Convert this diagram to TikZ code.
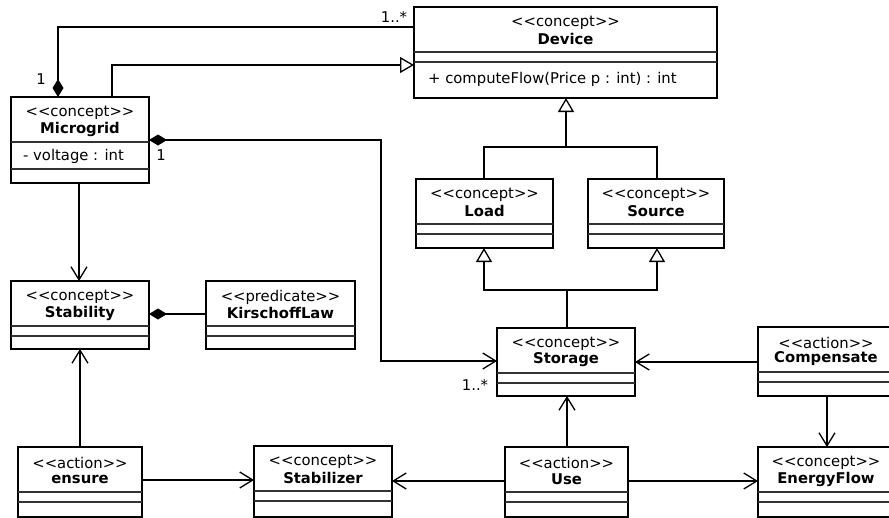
\documentclass[tikz,border=0pt]{standalone}
\usepackage{fontspec}
\setmainfont{DejaVu Sans}
\usetikzlibrary{arrows.meta,calc}
\newcommand{\umlclass}[9]{%
  \node[umlbox, anchor=north west, minimum width={#4-#2}, minimum height={#5-#3}] (#1) at (#2,#3) {};
  \draw[inner] (#2,#6) -- (#4,#6);
  \draw[inner] (#2,#7) -- (#4,#7);
  \node[txt] (#1-s) at ({(#2+#4)/2},#3+16) {<{}<#8>{}>};
  \node[txt, font=\fontsize{14.8pt}{17pt}\selectfont\bfseries] (#1-n) at ({(#2+#4)/2},#3+32) {#9};
}
\begin{document}
\begin{tikzpicture}[x=1pt,y=-1pt,
  umlbox/.style={draw=black, line width=2.6pt, fill=white, inner sep=0pt, outer sep=0pt},
  inner/.style={line width=1.2pt, draw=black!80},
  txt/.style={inner sep=0pt, font=\fontsize{14.8pt}{17pt}\selectfont},
  conn/.style={line width=1.3pt, draw=black},
  openarr/.style={-{Straight Barb[length=13pt,width=16pt]}},
  gen/.style={-{Triangle[open,length=14pt,width=16pt,fill=white]}},
  comp/.style={{Diamond[length=18pt,width=11pt]}-},
  compopen/.style={{Diamond[length=18pt,width=11pt]}-{Straight Barb[length=13pt,width=16pt]}},
]
\clip (0,0) rectangle (889,517);
\useasboundingbox (0,0) rectangle (889,517);

% classes
\umlclass{dev}{414}{7}{717}{98}{52}{62}{concept}{Device}
\node[txt, anchor=west] (dev-m) at (428,79) {+ computeFlow(Price p : int) : int};
\umlclass{mg}{11}{97}{149}{183}{142}{169}{concept}{Microgrid}
\node[txt, anchor=west] (mg-a) at (23,156) {- voltage : int};
\umlclass{load}{416}{179}{553}{248}{224}{234}{concept}{Load}
\umlclass{src}{588}{179}{724}{248}{224}{234}{concept}{Source}
\umlclass{stab}{11}{281}{149}{349}{326}{336}{concept}{Stability}
\umlclass{kl}{206}{281}{355}{349}{326}{336}{predicate}{KirschoffLaw}
\umlclass{sto}{497}{328}{635}{396}{373}{383}{concept}{Storage}
\umlclass{comp}{758}{327}{894}{396}{372}{382}{action}{Compensate}
\umlclass{ens}{18}{447}{142}{517}{492}{502}{action}{ensure}
\umlclass{stz}{254}{446}{392}{517}{491}{501}{concept}{Stabilizer}
\umlclass{use}{505}{447}{628}{517}{492}{502}{action}{Use}
\umlclass{ef}{758}{447}{894}{517}{492}{502}{concept}{EnergyFlow}

% connectors
\coordinate (j1) at (58,27);
\draw[conn,comp] (mg.north -| j1) -- (j1) -- (dev.west |- j1);
\coordinate (j2) at (112,65);
\draw[conn,gen] (mg.north -| j2) -- (j2) -- (dev.west |- j2);
\coordinate (j3) at (381,140);
\coordinate (j4) at (381,361);
\draw[conn,compopen] (mg.east |- j3) -- (j3) -- (j4) -- (sto.west |- j4);
\draw[conn,openarr] (mg.south -| 79,0) -- (stab.north -| 79,0);
\draw[conn,comp] (stab.east |- 0,314) -- (kl.west |- 0,314);
\draw[conn,openarr] (ens.north -| 80,0) -- (stab.south -| 80,0);
\draw[conn,openarr] (ens.east |- 0,480) -- (stz.west |- 0,480);
\draw[conn,openarr] (use.west |- 0,481) -- (stz.east |- 0,481);
\draw[conn,openarr] (use.north -| 567,0) -- (sto.south -| 567,0);
\draw[conn,openarr] (use.east |- 0,481) -- (ef.west |- 0,481);
\draw[conn,openarr] (comp.west |- 0,362) -- (sto.east |- 0,362);
\draw[conn,openarr] (comp.south -| 827,0) -- (ef.north -| 827,0);
% generalizations
\coordinate (g1) at (567,290);
\draw[conn] (sto.north -| g1) -- (g1);
\draw[conn,gen] (g1) -| (load.south -| 484,0);
\draw[conn,gen] (g1) -| (src.south -| 657,0);
\coordinate (g2) at (566,147);
\draw[conn] (load.north -| 484,0) |- (g2);
\draw[conn] (src.north -| 657,0) |- (g2);
\draw[conn,gen] (g2) -- (dev.south -| g2);

% multiplicities
\node[txt] (l1) at (394,17) {1..*};
\node[txt] (l2) at (41,79) {1};
\node[txt] (l3) at (161,155) {1};
\node[txt] (l4) at (475,385) {1..*};
\end{tikzpicture}
\end{document}
